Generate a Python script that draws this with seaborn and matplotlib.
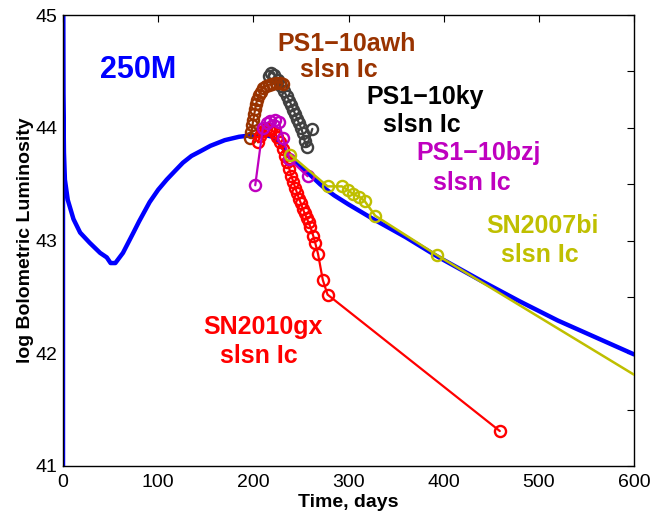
import numpy as np
import pandas as pd
import seaborn as sns
import matplotlib
matplotlib.use("Agg")
import matplotlib.pyplot as plt
from matplotlib.ticker import MultipleLocator

sns.set_style("white")
plt.rcParams['font.family'] = ['Liberation Sans', 'DejaVu Sans']

# model light curve, 250 Msun
model_days = [0, 0, 0.3, 1, 2, 5, 11, 18, 28, 39, 46, 50, 55, 63, 74, 80, 91, 100, 109, 118, 126,
              135, 144, 155, 170, 185, 195, 210, 220, 228, 235, 240, 250, 260, 270, 277, 285, 300,
              326, 360, 393, 440, 480, 520, 560, 600]
model_lum = [41.0, 45.3, 44.3, 43.78, 43.54, 43.36, 43.19, 43.07, 42.98, 42.89, 42.85, 42.80,
             42.80, 42.89, 43.07, 43.17, 43.34, 43.45, 43.54, 43.62, 43.69, 43.75, 43.79, 43.84,
             43.89, 43.92, 43.93, 43.94, 43.92, 43.86, 43.77, 43.72, 43.65, 43.58, 43.50, 43.45,
             43.40, 43.32, 43.19, 43.03, 42.86, 42.64, 42.46, 42.29, 42.14, 41.99]

# observed SLSN Ic
awh_days = [197, 198, 199, 200, 201, 202, 203, 204, 206, 208, 210, 213, 216, 220, 224, 228, 231]
awh_lum = [43.91, 43.96, 44.02, 44.07, 44.12, 44.17, 44.21, 44.25, 44.29, 44.32, 44.35, 44.37,
           44.38, 44.39, 44.40, 44.40, 44.39]

ky_days = [216, 219, 222, 226, 229, 232, 235, 238, 240, 242, 244, 246, 248, 250, 252, 254, 256, 262]
ky_lum = [44.46, 44.49, 44.47, 44.42, 44.37, 44.33, 44.28, 44.24, 44.20, 44.16, 44.12, 44.08,
          44.04, 44.00, 43.95, 43.88, 43.83, 43.99]

bzj_days = [202, 210, 214, 218, 223, 227, 231, 238, 257]
bzj_lum = [43.49, 44.00, 44.04, 44.06, 44.07, 44.05, 43.91, 43.72, 43.57]

gx_days = [205, 207, 210, 213, 216, 219, 222, 225, 228, 231, 233, 235, 238, 240, 242, 244, 246,
           248, 250, 252, 254, 256, 258, 260, 263, 265, 268, 273, 278, 459]
gx_lum = [43.87, 43.93, 43.97, 43.99, 43.99, 43.98, 43.96, 43.92, 43.87, 43.81, 43.75, 43.70,
          43.63, 43.57, 43.52, 43.47, 43.42, 43.37, 43.33, 43.28, 43.24, 43.20, 43.16, 43.12,
          43.04, 42.98, 42.88, 42.65, 42.52, 41.31]

bi_days = [239, 278, 293, 299, 305, 311, 317, 328, 393, 600]
bi_lum = [43.76, 43.48, 43.48, 43.45, 43.41, 43.39, 43.35, 43.22, 42.87, 41.81]

fig = plt.figure(figsize=(6.53, 5.12), dpi=100)
ax = fig.add_axes([63 / 653, 46 / 512, 571 / 653, 451 / 512])

sns.lineplot(x=model_days, y=model_lum, sort=False, estimator=None, color='#0000FF',
             linewidth=3.2, ax=ax, zorder=2)

obs = [
    (ky_days, ky_lum, '#404040', 3),
    (awh_days, awh_lum, '#993300', 4),
    (gx_days, gx_lum, '#FF0000', 5),
    (bzj_days, bzj_lum, '#BF00BF', 6),
]
for d, l, c, z in obs:
    sns.lineplot(x=d, y=l, sort=False, estimator=None, color=c, linewidth=1.6,
                 marker='o', markersize=8, markerfacecolor='none', markeredgecolor=c,
                 markeredgewidth=1.7, ax=ax, zorder=z)

# SN2007bi: last point is the extrapolated tail, no marker
sns.lineplot(x=bi_days, y=bi_lum, sort=False, estimator=None, color='#BFBF00', linewidth=1.8,
             marker='o', markersize=8, markerfacecolor='none', markeredgecolor='#BFBF00',
             markeredgewidth=1.7, markevery=list(range(len(bi_days) - 1)), ax=ax, zorder=7)

ax.set_xlim(0, 600)
ax.set_ylim(41, 45)
ax.xaxis.set_major_locator(MultipleLocator(100))
ax.yaxis.set_major_locator(MultipleLocator(1))
ax.yaxis.set_minor_locator(MultipleLocator(0.5))
ax.tick_params(which='both', direction='in', top=True, right=True, length=5, width=0.8,
               labelsize=14, colors='black')
ax.tick_params(axis='x', pad=6)
ax.tick_params(axis='y', pad=4)
for s in ax.spines.values():
    s.set_color('black')
    s.set_linewidth(1.0)

ax.set_xlabel('Time, days', fontsize=14, fontweight='bold', labelpad=2, color='black')
ax.set_ylabel('log Bolometric Luminosity', fontsize=14, fontweight='bold', labelpad=1, color='black')

tk = dict(ha='center', va='center', fontweight='bold', fontsize=18)
ax.text(79, 44.51, '250M', color='#0000FF', fontweight='bold', fontsize=22, ha='center', va='center')
ax.text(298, 44.74, 'PS1\u221210awh', color='#993300', **tk)
ax.text(290, 44.51, 'slsn Ic', color='#993300', **tk)
ax.text(381, 44.27, 'PS1\u221210ky', color='black', **tk)
ax.text(377, 44.02, 'slsn Ic', color='black', **tk)
ax.text(437, 43.78, 'PS1\u221210bzj', color='#BF00BF', **tk)
ax.text(430, 43.51, 'slsn Ic', color='#BF00BF', **tk)
ax.text(504, 43.13, 'SN2007bi', color='#BFBF00', **tk)
ax.text(501, 42.87, 'slsn Ic', color='#BFBF00', **tk)
ax.text(210, 42.23, 'SN2010gx', color='#FF0000', **tk)
ax.text(205.5, 41.98, 'slsn Ic', color='#FF0000', **tk)

fig.savefig('out.png', dpi=100)
